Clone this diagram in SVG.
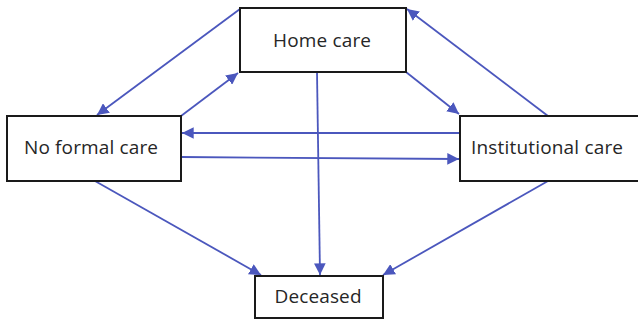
<svg xmlns="http://www.w3.org/2000/svg" width="638" height="323" viewBox="0 0 638 323">
<defs>
<style>
.box{fill:#fff;stroke:#1a1a1a;stroke-width:2}
.lbl{font-family:"Open Sans","Noto Sans",sans-serif;font-size:19px;fill:#262626;text-anchor:middle}
.edge{stroke:#4B57BD;stroke-width:1.8;fill:none;marker-end:url(#ah)}
</style>
<marker id="ah" viewBox="0 0 10 10" refX="10" refY="5" markerWidth="6.5" markerHeight="6.5" markerUnits="strokeWidth" orient="auto">
<path d="M0,0 L10,5 L0,10 z" fill="#4B57BD"/>
</marker>
</defs>
<g id="connectors">
<line class="edge" x1="240" y1="9" x2="97" y2="115"/>
<line class="edge" x1="181" y1="116" x2="238" y2="73"/>
<line class="edge" x1="406" y1="72" x2="459" y2="114"/>
<line class="edge" x1="548" y1="116" x2="407" y2="9"/>
<line class="edge" x1="460" y1="133" x2="182" y2="133"/>
<line class="edge" x1="181" y1="157" x2="459" y2="159"/>
<line class="edge" x1="317" y1="72" x2="320" y2="275"/>
<line class="edge" x1="95" y1="181" x2="261" y2="275"/>
<line class="edge" x1="548" y1="181" x2="383" y2="275"/>
</g>
<g id="home-care">
<rect class="box" x="240" y="8" width="166" height="64"/>
<text class="lbl" x="322" y="47" textLength="98">Home care</text>
</g>
<g id="no-formal-care">
<rect class="box" x="7" y="116" width="174" height="65"/>
<text class="lbl" x="91" y="154" textLength="134">No formal care</text>
</g>
<g id="institutional-care">
<rect class="box" x="460" y="116" width="190" height="65"/>
<text class="lbl" x="547" y="154" textLength="152">Institutional care</text>
</g>
<g id="deceased">
<rect class="box" x="255" y="276" width="128" height="42"/>
<text class="lbl" x="318" y="303" textLength="87">Deceased</text>
</g>
</svg>
